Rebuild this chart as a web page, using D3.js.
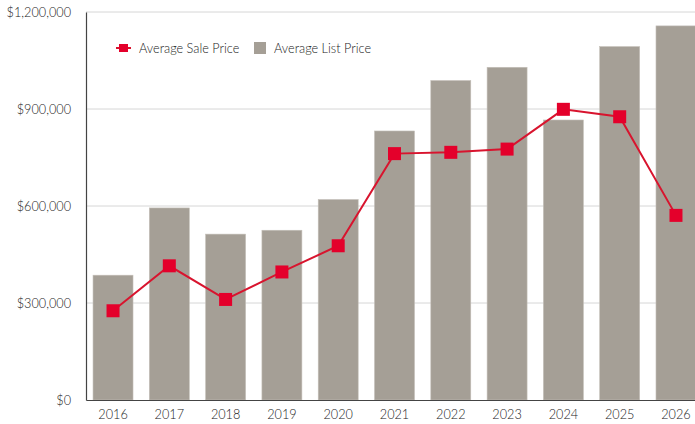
<!DOCTYPE html>
<html><head><meta charset="utf-8">
<script src="https://cdn.jsdelivr.net/npm/d3@7"></script>
<style>body{margin:0;background:#fff;}svg{display:block;font-family:Lato,sans-serif;}</style>
</head><body><svg id="c" width="695" height="424"></svg>
<script>
const years = ["2016","2017","2018","2019","2020","2021","2022","2023","2024","2025","2026"];
const listPrice = [386000,594000,513000,525000,620000,832000,988000,1029000,866000,1093000,1157000];
const salePrice = [276000,415000,311000,396000,477000,762000,766000,776000,899000,876000,571000];
const yTicks = [0,300000,600000,900000,1200000];

(function(){
const svg = d3.select("#c");
const mLeft = 86, mRight = 703, mTop = 12, mBottom = 400;
const fs = 12.7, fw = 300;
const x = d3.scaleBand().domain(years).range([mLeft, mRight]).paddingInner(0.29).paddingOuter(0.125);
const y = d3.scaleLinear().domain([0,1200000]).range([mBottom, mTop]);
const fmt = d => "$" + d3.format(",")(d);

// gridlines
svg.append("g").selectAll("line").data(yTicks.filter(d=>d>0)).join("line")
  .attr("x1", mLeft).attr("x2", 695).attr("y1", d=>y(d)).attr("y2", d=>y(d))
  .attr("stroke", "#d6d6d6").attr("stroke-width", 1);

// bars
svg.append("g").selectAll("rect").data(years).join("rect")
  .attr("x", d=>x(d)).attr("width", x.bandwidth())
  .attr("y", (d,i)=>y(listPrice[i])).attr("height", (d,i)=>mBottom - y(listPrice[i]))
  .attr("fill", "#a59f96").attr("stroke", "#c4bfb8").attr("stroke-width", 0.6);

// y axis
const ya = svg.append("g").attr("transform", `translate(${mLeft},0)`)
  .call(d3.axisLeft(y).tickValues(yTicks).tickFormat(fmt).tickSize(0).tickPadding(15));
ya.select(".domain").attr("stroke", "#444").attr("stroke-width", 1.2);
ya.selectAll("text").attr("font-size", fs).attr("font-weight", fw).attr("fill", "#222").attr("font-family", "Lato");

// x axis
const xa = svg.append("g").attr("transform", `translate(0,${mBottom})`)
  .call(d3.axisBottom(x).tickSize(0).tickPadding(10));
xa.select(".domain").attr("stroke", "#444").attr("stroke-width", 1.2);
xa.selectAll("text").attr("font-size", fs).attr("font-weight", fw).attr("fill", "#222").attr("font-family", "Lato");

// line
const cx = d => x(d) + x.bandwidth()/2;
svg.append("path").datum(years)
  .attr("d", d3.line().x(cx).y((d,i)=>y(salePrice[i])))
  .attr("fill", "none").attr("stroke", "#d8142e").attr("stroke-width", 2);
const s = 13;
svg.append("g").selectAll("rect").data(years).join("rect")
  .attr("x", d=>cx(d)-s/2).attr("y", (d,i)=>y(salePrice[i])-s/2)
  .attr("width", s).attr("height", s).attr("fill", "#e4002b");

// legend
const lg = svg.append("g");
lg.append("line").attr("x1", 116).attr("x2", 131).attr("y1", 48).attr("y2", 48)
  .attr("stroke", "#d8142e").attr("stroke-width", 2);
lg.append("rect").attr("x", 119).attr("y", 44).attr("width", 9).attr("height", 8).attr("fill", "#e4002b");
lg.append("text").attr("x", 139).attr("y", 52.5).text("Average Sale Price")
  .attr("font-size", fs).attr("font-weight", fw).attr("fill", "#222");
lg.append("rect").attr("x", 254).attr("y", 42).attr("width", 12).attr("height", 12).attr("fill", "#a59f96");
lg.append("text").attr("x", 274).attr("y", 52.5).text("Average List Price")
  .attr("font-size", fs).attr("font-weight", fw).attr("fill", "#222");
})();
</script></body></html>
